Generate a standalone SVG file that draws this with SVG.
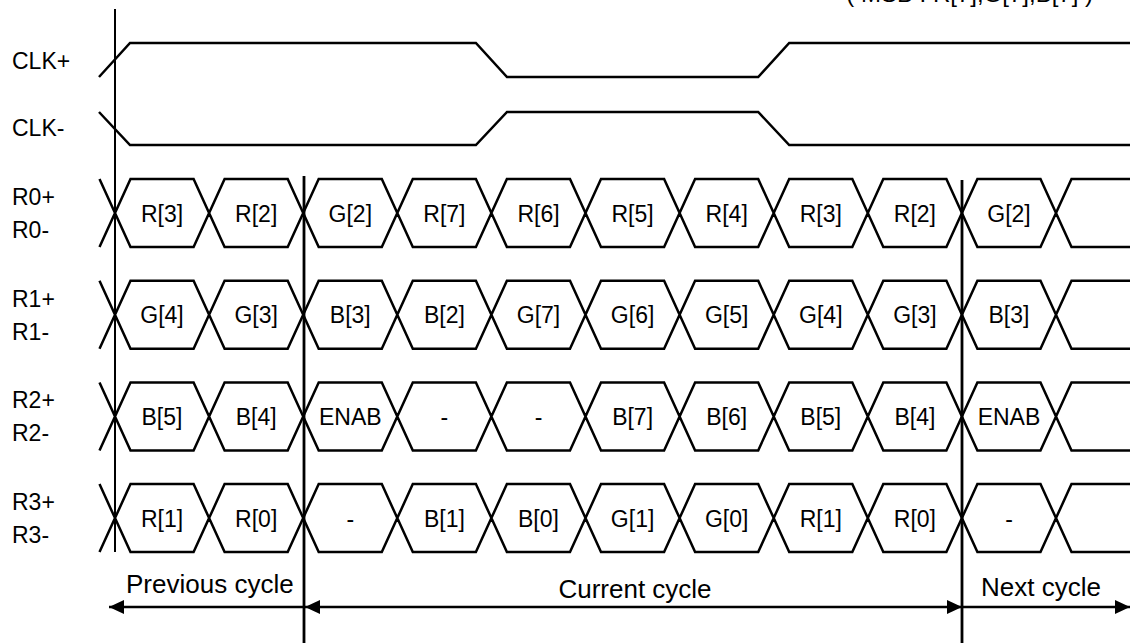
<svg xmlns="http://www.w3.org/2000/svg" width="1130" height="643" viewBox="0 0 1130 643">
<defs>
<style>
text{font-family:"Liberation Sans",Arial,sans-serif;fill:#000}
.lbl{font-size:23px}
.cell{font-size:23px;text-anchor:middle}
.cyc{font-size:26px}
.sig{fill:none;stroke:#000;stroke-width:2.5;stroke-linejoin:miter}
.div{fill:none;stroke:#000;stroke-width:2.8}
.arr{fill:none;stroke:#000;stroke-width:2.5}
</style>
<path id="eye" class="sig" d="M99.5,0 L115,34 L99.5,68
M115,34 L130.5,0 L193.6,0 L209.1,34 L193.6,68 L130.5,68 Z
M209.1,34 L224.6,0 L287.7,0 L303.2,34 L287.7,68 L224.6,68 Z
M303.2,34 L318.7,0 L381.8,0 L397.3,34 L381.8,68 L318.7,68 Z
M397.3,34 L412.8,0 L475.9,0 L491.4,34 L475.9,68 L412.8,68 Z
M491.4,34 L506.9,0 L570,0 L585.5,34 L570,68 L506.9,68 Z
M585.5,34 L601,0 L664.1,0 L679.6,34 L664.1,68 L601,68 Z
M679.6,34 L695.1,0 L758.2,0 L773.7,34 L758.2,68 L695.1,68 Z
M773.7,34 L789.2,0 L852.3,0 L867.8,34 L852.3,68 L789.2,68 Z
M867.8,34 L883.3,0 L946.4,0 L961.9,34 L946.4,68 L883.3,68 Z
M961.9,34 L977.4,0 L1040.5,0 L1056,34 L1040.5,68 L977.4,68 Z
M1130,0 L1071.5,0 L1056,34 L1071.5,68 L1130,68"/>
<marker id="ah" markerWidth="16" markerHeight="14" refX="15" refY="7" orient="auto-start-reverse" markerUnits="userSpaceOnUse">
<path d="M0,0 L15,7 L0,14 Z" fill="#000"/>
</marker>
</defs>
<rect width="1130" height="643" fill="#fff"/>

<text x="1093" y="2" style="font-size:24px" text-anchor="end">( MSB : R[7],G[7],B[7] )</text>

<g id="clkp">
<text class="lbl" x="12" y="69">CLK+</text>
<path class="sig" d="M99,77 L130,43 L475.9,43 L507,77 L758.2,77 L789.2,43 L1130,43"/>
</g>
<g id="clkm">
<text class="lbl" x="12" y="136">CLK-</text>
<path class="sig" d="M99,112 L130,145 L475.9,145 L507,112 L758.2,112 L789.2,145 L1130,145"/>
</g>

<g id="r0" transform="translate(0,179)">
<text class="lbl" x="12" y="26">R0+</text>
<text class="lbl" x="12" y="59">R0-</text>
<use href="#eye"/>
<text class="cell" x="162" y="42.5">R[3]</text>
<text class="cell" x="256.2" y="42.5">R[2]</text>
<text class="cell" x="350.3" y="42.5">G[2]</text>
<text class="cell" x="444.4" y="42.5">R[7]</text>
<text class="cell" x="538.5" y="42.5">R[6]</text>
<text class="cell" x="632.6" y="42.5">R[5]</text>
<text class="cell" x="726.7" y="42.5">R[4]</text>
<text class="cell" x="820.8" y="42.5">R[3]</text>
<text class="cell" x="914.9" y="42.5">R[2]</text>
<text class="cell" x="1009" y="42.5">G[2]</text>
</g>

<g id="r1" transform="translate(0,280.7)">
<text class="lbl" x="12" y="26">R1+</text>
<text class="lbl" x="12" y="59">R1-</text>
<use href="#eye"/>
<text class="cell" x="162" y="42.5">G[4]</text>
<text class="cell" x="256.2" y="42.5">G[3]</text>
<text class="cell" x="350.3" y="42.5">B[3]</text>
<text class="cell" x="444.4" y="42.5">B[2]</text>
<text class="cell" x="538.5" y="42.5">G[7]</text>
<text class="cell" x="632.6" y="42.5">G[6]</text>
<text class="cell" x="726.7" y="42.5">G[5]</text>
<text class="cell" x="820.8" y="42.5">G[4]</text>
<text class="cell" x="914.9" y="42.5">G[3]</text>
<text class="cell" x="1009" y="42.5">B[3]</text>
</g>

<g id="r2" transform="translate(0,382.4)">
<text class="lbl" x="12" y="26">R2+</text>
<text class="lbl" x="12" y="59">R2-</text>
<use href="#eye"/>
<text class="cell" x="162" y="42.5">B[5]</text>
<text class="cell" x="256.2" y="42.5">B[4]</text>
<text class="cell" x="350.3" y="42.5">ENAB</text>
<text class="cell" x="444.4" y="42.5">-</text>
<text class="cell" x="538.5" y="42.5">-</text>
<text class="cell" x="632.6" y="42.5">B[7]</text>
<text class="cell" x="726.7" y="42.5">B[6]</text>
<text class="cell" x="820.8" y="42.5">B[5]</text>
<text class="cell" x="914.9" y="42.5">B[4]</text>
<text class="cell" x="1009" y="42.5">ENAB</text>
</g>

<g id="r3" transform="translate(0,484.1)">
<text class="lbl" x="12" y="26">R3+</text>
<text class="lbl" x="12" y="59">R3-</text>
<use href="#eye"/>
<text class="cell" x="162" y="42.5">R[1]</text>
<text class="cell" x="256.2" y="42.5">R[0]</text>
<text class="cell" x="350.3" y="42.5">-</text>
<text class="cell" x="444.4" y="42.5">B[1]</text>
<text class="cell" x="538.5" y="42.5">B[0]</text>
<text class="cell" x="632.6" y="42.5">G[1]</text>
<text class="cell" x="726.7" y="42.5">G[0]</text>
<text class="cell" x="820.8" y="42.5">R[1]</text>
<text class="cell" x="914.9" y="42.5">R[0]</text>
<text class="cell" x="1009" y="42.5">-</text>
</g>

<g id="connectors">
<line x1="115" y1="9" x2="115" y2="552" stroke="#000" stroke-width="2"/>
<line class="div" x1="304" y1="176" x2="304" y2="643"/>
<line class="div" x1="962" y1="180" x2="962" y2="643"/>
<line class="arr" x1="304" y1="607" x2="109" y2="607" marker-end="url(#ah)"/>
<line class="arr" x1="305" y1="607" x2="962" y2="607" marker-start="url(#ah)" marker-end="url(#ah)"/>
<line class="arr" x1="962" y1="607" x2="1130" y2="607" marker-end="url(#ah)"/>
</g>

<g id="cycles">
<text class="cyc" x="126" y="593">Previous cycle</text>
<text class="cyc" x="635" y="598" text-anchor="middle">Current cycle</text>
<text class="cyc" x="981" y="596">Next cycle</text>
</g>
</svg>
